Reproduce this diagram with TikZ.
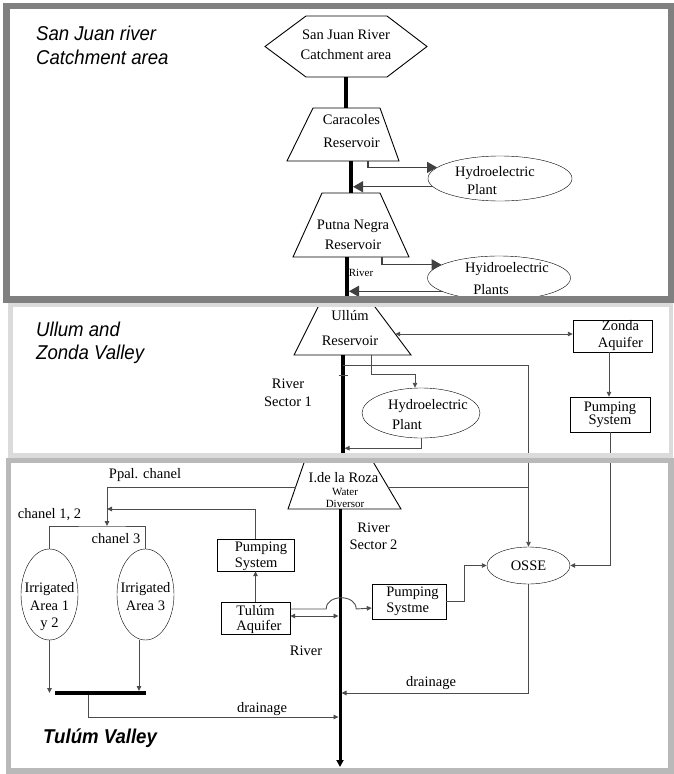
\documentclass[tikz,border=0pt]{standalone}
\usepackage{fontspec}
\setmainfont{Liberation Serif}
\newfontfamily\titlefont[FakeStretch=0.93]{Liberation Sans}
\usetikzlibrary{arrows.meta,positioning,calc,shapes.geometric}

\begin{document}
\begin{tikzpicture}[x=1pt,y=-1pt,
    dam/.style 2 args={minimum width=#1,minimum height=#2,inner sep=0,outer sep=0},
    box/.style 2 args={draw,minimum width=#1,minimum height=#2,inner sep=0},
    ell/.style 2 args={ellipse,draw,minimum width=#1,minimum height=#2,inner sep=0},
    txt/.style={align=center,inner sep=0,font=\fontsize{14.5}{#1}\selectfont},
    txt/.default=17,
    river/.style={line width=4pt},
    link/.style={black!70,line width=0.9pt},
    arr/.style={link,-{Triangle[length=5pt,width=4.5pt]}},
    arr2/.style={link,{Triangle[length=5pt,width=4.5pt]}-{Triangle[length=5pt,width=4.5pt]}},
    bigarr/.style={black!75,line width=1.2pt,-{Triangle[length=10pt,width=11pt]}},
    zonetitle/.style={anchor=west,align=left,inner sep=0,font=\titlefont\fontsize{20}{23.5}\selectfont\itshape}]
    \useasboundingbox (0,0) rectangle (674,774);

    % catchment area
    \node[dam={162}{61}] (hex) at (346,46.5) {};
    \node[dam={112}{53}] (car) at (343,134.5) {};
    \node[dam={116}{64}] (putna) at (351,225) {};
    \node[ell={144}{45}] (hp1) at (500,178.5) {};
    \node[ell={143}{44}] (hp2) at (499,278) {};
    \draw[line width=0.9pt] (hex.west) -- ([xshift=41pt]hex.north west) -- ([xshift=-40pt]hex.north east) -- (hex.east)
        -- ([xshift=-40pt]hex.south east) -- ([xshift=41pt]hex.south west) -- cycle;
    \node[txt=20] (hexT) at ([yshift=1.5pt]hex.center) {San Juan River\\Catchment area};
    \node[txt=23] (carT) at ([xshift=8.5pt,yshift=3pt]car.center) {Caracoles\\Reservoir};
    \node[txt=20] (putnaT) at ([xshift=2pt,yshift=-10pt]putna.center) {Putna Negra\\Reservoir};
    \node[txt=18] (hp1T) at ([xshift=-5pt,yshift=-2.5pt]hp1.center) {Hydroelectric\\Plant\hspace*{26pt}};
    \node[txt=22] (hp2T) at ([yshift=-1pt]hp2.center) {\hspace*{16pt}Hyidroelectric\\Plants\hspace*{16pt}};
    \node[inner sep=0,font=\fontsize{11}{13}\selectfont] (riv1) at (361,273) {River};

    % Ullum and Zonda
    \node[dam={117}{52}] (ull) at (352.5,329) {};
    \node[box={79}{32}] (zonda) at (612.5,336) {};
    \node[box={80}{35}] (pz) at (610,414.5) {};
    \node[ell={118}{50}] (hp3) at (421,413) {};
    \node[txt=25] (ullT) at ([xshift=-2.5pt,yshift=0.5pt]ull.center) {Ullúm\\Reservoir};
    \node[txt=17] (zondaT) at ([xshift=8pt]zonda.center) {Zonda\\Aquifer};
    \node[txt=13] (pzT) at (pz.center) {Pumping\\System};
    \node[txt=20] (hp3T) at ([yshift=-2pt]hp3.center) {\hspace*{14pt}Hydroelectric\\Plant\hspace*{28pt}};
    \node[txt=18] (sec1) at (288,393) {River\\Sector 1};

    % Tulum valley
    \node[dam={113}{49}] (roza) at (344.5,484.5) {};
    \node[box={77}{32}] (pt) at (255.5,555) {};
    \node[box={69}{32}] (ta) at (255.5,618) {};
    \node[box={74}{35}] (ps) at (409,601.5) {};
    \node[ell={83}{37},font=\fontsize{14.5}{17}\selectfont] (osse) at (528.5,565.5) {OSSE};
    \node[ell={57}{91}] (ia12) at (49.5,594.5) {};
    \node[ell={57}{91}] (ia3) at (145.5,594.5) {};
    \node[fill=black,inner sep=0,minimum width=91,minimum height=3.5] (bar) at (100.5,693) {};
    \node[txt] (rozaT) at (343.5,478) {I.de la Roza};
    \node[align=center,inner sep=0,font=\fontsize{11}{12}\selectfont] (rozaT2) at (345,497.5) {Water\\Diversor};
    \node[txt=16,align=left] (ptT) at ([xshift=5.5pt,yshift=-1pt]pt.center) {Pumping\\System};
    \node[txt=15,align=left] (taT) at ([xshift=3.5pt,yshift=-1.5pt]ta.center) {Tulúm\\Aquifer};
    \node[txt=16,align=left] (psT) at ([xshift=3.5pt]ps.center) {Pumping\\Systme};
    \node[txt=17.5] (ia12T) at ([yshift=-12.5pt]ia12.center) {Irrigated\\Area 1\\y 2};
    \node[txt=18] (ia3T) at ([yshift=-2.5pt]ia3.center) {Irrigated\\Area 3};
    \node[txt] (ppal) at (145,475) {Ppal. chanel};
    \node[txt] (ch12) at (49.5,515) {chanel 1, 2};
    \node[txt] (ch3) at (116,539) {chanel 3};
    \node[txt=17] (sec2) at (373.5,536.5) {River\\Sector 2};
    \node[txt] (riv3) at (306,651) {River};
    \node[txt] (drain1) at (262,709) {drainage};
    \node[txt] (drain2) at (431,683) {drainage};

    % dam outlines
    \foreach \n/\l/\r in {car/26/19,putna/29/29,ull/26/39,roza/17/29}
        \draw[line width=0.9pt] (\n.south west) -- ([xshift=\l pt]\n.north west) -- ([xshift=-\r pt]\n.north east) -- (\n.south east) -- cycle;

    % river
    \coordinate (rv0) at ([xshift=-4pt]putna.south);
    \coordinate (rv2) at ([xshift=-9.5pt]ull.south);
    \coordinate (rv) at ([xshift=-4.5pt]roza.south);
    \coordinate (mouth) at (rv |- 0,767);
    \draw[river] (hex.south) -- (hex.south |- car.north);
    \draw[river] (putna.north |- car.south) -- (putna.north);
    \draw[river] (rv0) -- (rv0 |- ull.north);
    \draw[river,line width=3.5pt] (rv2) -- (rv2 |- roza.north);
    \draw[line width=3pt,-{Triangle[length=7pt,width=7pt]}] (rv) -- (mouth);

    % hydro plants upstream
    \draw[bigarr] ([xshift=25pt]car.south) |- (hp1.170);
    \draw[bigarr,shorten >=2pt] (hp1.187) -- (hp1.187 -| putna.north);
    \draw[bigarr] ([xshift=31pt]putna.south) |- (hp2.167);
    \draw[bigarr,shorten >=2pt] (hp2.193) -- (hp2.193 -| rv0);

    % Ullum and Zonda links
    \coordinate (ullR) at ($(ull.south east)!0.404!([xshift=-39pt]ull.north east)$);
    \draw[arr2] (ullR) -- (ullR -| zonda.west);
    \draw[arr] ([xshift=-3.5pt]zonda.south) -- ([xshift=-3.5pt]zonda.south |- pz.north);
    \draw[arr] ([xshift=18.5pt]ull.south) -- ++(0,19) -| ([xshift=-6pt]hp3.north);
    \draw[arr,shorten >=1.5pt] (hp3.south) |- ([yshift=-10pt]hp3.south -| rv2);
    \draw[arr] ([yshift=-10pt]rv2) -| (osse.north);
    \draw[link] ([yshift=-20pt]rv2) +(-4.5,0) -- +(4.5,0);
    \draw[arr] (pz.south) |- (osse.east);

    % Tulum valley links
    \coordinate (rozaL) at ($(roza.south west)!0.449!([xshift=17pt]roza.north west)$);
    \coordinate (rozaR) at ($(roza.south east)!0.449!([xshift=-29pt]roza.north east)$);
    \coordinate (split) at (107,526);
    \draw[arr] (rozaL) -| (split);
    \draw[link] (rozaR) -- (rozaR -| osse.north);
    \draw[link] (ia12.north) |- (split) -| (ia3.north);
    \draw[arr] (pt.north) |- (split |- 0,509);
    \draw[arr] (ta.north) -- (pt.south);
    \draw[arr] ([yshift=9pt]ta.east) -- ++(36,0) .. controls +(0,-15) and +(0,-15) .. ++(30,0) -- ([yshift=-6.5pt]ps.west);
    \draw[arr2,shorten >=1.5pt] ([yshift=2pt]ta.east) -- ([yshift=2pt]ta.east -| rv);
    \draw[arr] (ps.east) -- ++(18,0) |- (osse.west);
    \draw[arr,shorten >=1.5pt] (osse.south) |- (rv |- 0,693);
    \draw[arr,shorten >=1.5pt] ([xshift=-12.5pt]bar.south) |- (rv |- 0,717);
    \draw[arr] (ia12.south) -- (ia12.south |- bar.west);
    \draw[arr] ([xshift=-6.5pt]ia3.south) -- ([xshift=-6.5pt]ia3.south |- bar.north);

    % zone frames
    \draw[line width=5.5pt,gray!55] (8.5,460.5) rectangle (671,771);
    \draw[line width=4.5pt,gray!28] (10.5,304.5) rectangle (671,455.5);
    \draw[line width=6.5pt,gray] (6.5,6) rectangle (671,299.5);
    \node[zonetitle] (t1) at (36,45.5) {San Juan river\\Catchment area};
    \node[zonetitle] (t2) at (36,343) {Ullum and\\Zonda Valley};
    \node[zonetitle,font=\titlefont\fontsize{20}{23.5}\selectfont\bfseries\itshape] (t3) at (43,738) {Tulúm Valley};
\end{tikzpicture}
\end{document}
